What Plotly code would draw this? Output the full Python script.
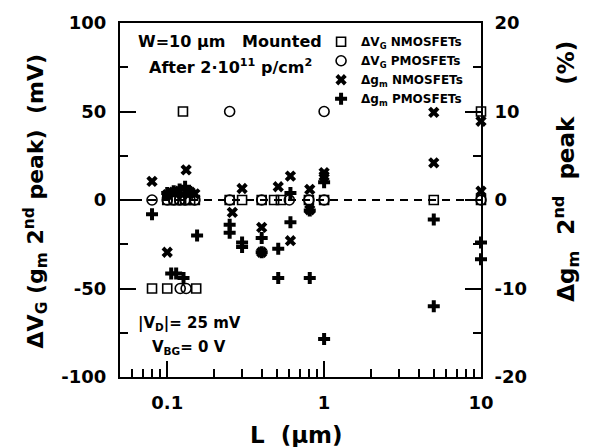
import plotly.graph_objects as go

# ---------------- data ----------------
# Delta V_G, NMOSFETs (mV, left axis)
n_vg_L = [0.08, 0.10, 0.153, 0.126, 10.0,
          0.10, 0.11, 0.12, 0.13, 0.14, 0.15, 0.25, 0.30, 0.40, 0.48, 0.53, 0.80, 1.0, 5.0, 10.0]
n_vg_V = [-50, -50, -50, 50, 50,
          0, 0, 0, 0, 0, 0, 0, 0, 0, 0, 0, 0, 0, 0, 0]

# Delta V_G, PMOSFETs (mV, left axis)
p_vg_L = [0.121, 0.132, 0.25, 1.0,
          0.08, 0.10, 0.11, 0.12, 0.13, 0.15, 0.25, 0.40, 0.60, 0.80, 1.0, 10.0]
p_vg_V = [-50, -50, 50, 50,
          0, 0, 0, 0, 0, 0, 0, 0, 0, 0, 0, 0]

# Delta g_m, NMOSFETs (%, right axis)
n_gm_L = [0.08, 0.10, 0.10, 0.11, 0.12, 0.125, 0.132, 0.14, 0.15,
          0.26, 0.30, 0.40, 0.40, 0.51, 0.61, 0.61, 0.81, 0.81, 1.0, 1.0, 5.0, 5.0, 10.0, 10.0]
n_gm_V = [2.1, -5.9, 0.6, 0.9, 1.0, 0.6, 3.4, 0.9, 0.7,
          -1.4, 1.3, -3.1, -5.9, 1.5, 2.7, -4.6, 1.2, -1.1, 3.1, 2.7, 9.9, 4.2, 8.9, 1.0]

# Delta g_m, PMOSFETs (%, right axis)
p_gm_L = [0.08, 0.10, 0.11, 0.12, 0.13, 0.14, 0.155, 0.106, 0.114, 0.127,
          0.25, 0.25, 0.30, 0.30, 0.40, 0.40, 0.51, 0.51, 0.61, 0.61, 0.81, 0.81,
          1.0, 1.0, 5.0, 5.0, 10.0, 10.0]
p_gm_V = [-1.6, 0.8, 1.0, 1.2, 1.5, 0.9, -4.0, -8.3, -8.3, -8.8,
          -2.8, -3.7, -4.8, -5.3, -4.3, -5.9, -5.5, -8.8, 0.8, -2.5, -1.2, -8.8,
          2.0, -15.7, -2.2, -12.0, -4.8, -6.7]

names = ["ΔV<sub>G</sub> NMOSFETs", "ΔV<sub>G</sub> PMOSFETs",
         "Δg<sub>m</sub> NMOSFETs", "Δg<sub>m</sub> PMOSFETs"]

left_ticks = [-100, -50, 0, 50, 100]
left_ticktext = ["-100", "-50", "0", "50", "100"]
right_ticks = [-20, -10, 0, 10, 20]
right_ticktext = ["-20", "-10", "0", "10", "20"]
x_ticks = [0.1, 1, 10]
x_ticktext = ["0.1", "1", "10"]

FONT = "DejaVu Sans"
BLACK = "black"

fig = go.Figure()
fig.add_trace(go.Scatter(x=n_vg_L, y=n_vg_V, mode="markers", name=names[0],
                         marker=dict(symbol="square-open", size=9, color=BLACK, line=dict(width=1.6, color=BLACK)),
                         cliponaxis=False))
fig.add_trace(go.Scatter(x=p_vg_L, y=p_vg_V, mode="markers", name=names[1],
                         marker=dict(symbol="circle-open", size=10, color=BLACK, line=dict(width=1.6, color=BLACK)),
                         cliponaxis=False))
fig.add_trace(go.Scatter(x=n_gm_L, y=n_gm_V, mode="markers", name=names[2], yaxis="y2",
                         marker=dict(symbol="x", size=10, color=BLACK, line=dict(width=0)),
                         cliponaxis=False))
fig.add_trace(go.Scatter(x=p_gm_L, y=p_gm_V, mode="markers", name=names[3], yaxis="y2",
                         marker=dict(symbol="cross", size=10, color=BLACK, line=dict(width=0)),
                         cliponaxis=False))

fig.add_shape(type="line", xref="x domain", yref="y", x0=0, x1=1, y0=0, y1=0,
              line=dict(color=BLACK, width=2, dash="8px,6px"), layer="below")

tickfont = dict(family=FONT, size=18, color=BLACK, weight="bold")

fig.update_layout(
    width=594, height=447,
    margin=dict(l=120, r=113, t=16, b=70),
    paper_bgcolor="white", plot_bgcolor="white",
    showlegend=True,
    legend=dict(x=0.557, y=0.988, xanchor="left", yanchor="top",
                bgcolor="rgba(0,0,0,0)", tracegroupgap=0,
                font=dict(family=FONT, size=12, color=BLACK, weight="bold")),
    xaxis=dict(type="log", range=[-1.30103, 1], showgrid=False, zeroline=False,
               showline=True, linewidth=2, linecolor=BLACK, mirror=True,
               tickvals=x_ticks, ticktext=x_ticktext, ticks="inside", ticklen=16,
               tickwidth=2, tickcolor=BLACK, tickfont=tickfont, ticklabelstandoff=8,
               minor=dict(dtick="D1", ticks="inside", ticklen=8, tickwidth=2,
                          tickcolor=BLACK, showgrid=False)),
    yaxis=dict(range=[-100, 100], showgrid=False, zeroline=False,
               showline=True, linewidth=2, linecolor=BLACK,
               tickvals=left_ticks, ticktext=left_ticktext, ticks="inside", ticklen=16,
               tickwidth=2, tickcolor=BLACK, tickfont=tickfont, ticklabelstandoff=8,
               minor=dict(dtick=25, ticks="inside", ticklen=8, tickwidth=2,
                          tickcolor=BLACK, showgrid=False)),
    yaxis2=dict(range=[-20, 20], overlaying="y", side="right", showgrid=False,
                zeroline=False, showline=True, linewidth=2, linecolor=BLACK,
                tickvals=right_ticks, ticktext=right_ticktext, ticks="inside", ticklen=16,
                tickwidth=2, tickcolor=BLACK, tickfont=tickfont, ticklabelstandoff=8,
                minor=dict(dtick=5, ticks="inside", ticklen=8, tickwidth=2,
                           tickcolor=BLACK, showgrid=False)),
)

annfont = dict(family=FONT, size=16, color=BLACK, weight="bold")
fig.add_annotation(text="W=10 μm   Mounted", xref="paper", yref="paper",
                   x=0.0443, y=0.947, xanchor="left", yanchor="middle",
                   showarrow=False, font=annfont)
fig.add_annotation(text="After 2·10<sup>11</sup> p/cm<sup>2</sup>", xref="paper", yref="paper",
                   x=0.0748, y=0.878, xanchor="left", yanchor="middle",
                   showarrow=False, font=annfont)
fig.add_annotation(text="|V<sub>D</sub>|= 25 mV", xref="paper", yref="paper",
                   x=0.0443, y=0.152, xanchor="left", yanchor="middle",
                   showarrow=False, font=dict(family=FONT, size=15, color=BLACK, weight="bold"))
fig.add_annotation(text="V<sub>BG</sub>= 0 V", xref="paper", yref="paper",
                   x=0.083, y=0.083, xanchor="left", yanchor="middle",
                   showarrow=False, font=dict(family=FONT, size=15, color=BLACK, weight="bold"))

titlefont = dict(family=FONT, size=22, color=BLACK, weight="bold")
fig.add_annotation(text="ΔV<sub>G</sub> (g<sub>m</sub> 2<sup>nd</sup> peak)  (mV)",
                   xref="paper", yref="paper", x=-0.2327, y=0.496,
                   xanchor="center", yanchor="middle", textangle=-90,
                   showarrow=False, font=titlefont)
fig.add_annotation(text="Δg<sub>m</sub>  2<sup>nd</sup>  peak    (%)",
                   xref="paper", yref="paper", x=1.2355, y=0.58,
                   xanchor="center", yanchor="middle", textangle=-90,
                   showarrow=False, font=dict(family=FONT, size=23, color=BLACK, weight="bold"))
fig.add_annotation(text="L  (μm)", xref="paper", yref="paper", x=0.490, y=-0.163,
                   xanchor="center", yanchor="middle", showarrow=False,
                   font=dict(family=FONT, size=23, color=BLACK, weight="bold"))

fig.write_html("out.html")
